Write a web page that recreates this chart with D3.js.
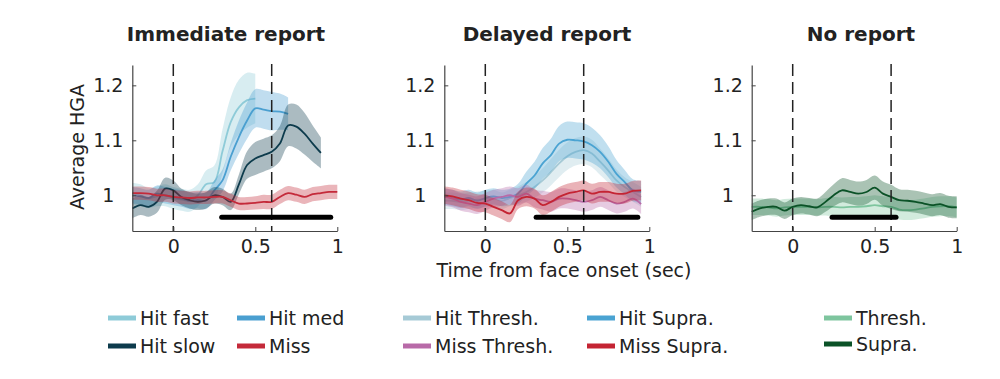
<!DOCTYPE html>
<html>
<head>
<meta charset="utf-8">
<script src="https://cdn.jsdelivr.net/npm/d3@7"></script>
<style>
  body { margin: 0; background: #fff; }
  svg text { font-family: "DejaVu Sans", sans-serif; fill: #222; }
</style>
</head>
<body>
<svg id="chart" width="1000" height="379"></svg>
<script>
// time axis (sec from face onset), sampled every 50 ms
const time = [-0.25, -0.2, -0.15, -0.1, -0.05, 0, 0.05, 0.1, 0.15, 0.2, 0.25, 0.3, 0.35,
              0.4, 0.45, 0.5, 0.55, 0.6, 0.65, 0.7, 0.75, 0.8, 0.85, 0.9, 0.95, 1.0];

const panelTitles = ["Immediate report", "Delayed report", "No report"];
const xTicks = [0, 0.5, 1];
const yTicks = [1, 1.1, 1.2];
const markerTimes = [0, 0.6];
const sigBars = [[0.295, 0.96], [0.31, 0.93], [0.24, 0.63]];

// Immediate report
const hitFast = [1.003, 1.0, 0.995, 0.998, 1.0, 0.995, 0.992, 0.99, 1.0, 1.02, 1.024, 1.08, 1.133, 1.16, 1.173, 1.176];
const hitFastSE = [0.02, 0.02, 0.018, 0.018, 0.02, 0.02, 0.02, 0.02, 0.02, 0.025, 0.03, 0.04, 0.045, 0.05, 0.05, 0.045];
const hitMed = [1.0, 0.998, 0.995, 1.003, 1.0, 0.997, 0.994, 0.99, 0.991, 0.99, 1.009, 1.027, 1.07, 1.106, 1.136, 1.158, 1.156, 1.153, 1.152, 1.148];
const hitMedSE = [0.015, 0.015, 0.015, 0.015, 0.015, 0.015, 0.015, 0.015, 0.015, 0.015, 0.018, 0.02, 0.025, 0.03, 0.033, 0.035, 0.035, 0.035, 0.033, 0.03];
const hitSlow = [0.976, 0.982, 0.979, 0.988, 1.012, 1.009, 0.997, 0.991, 0.988, 0.991, 1.0, 0.997, 0.988, 1.02, 1.055, 1.067, 1.073, 1.079, 1.094, 1.127, 1.125, 1.112, 1.094, 1.077];
const hitSlowSE = [0.018, 0.018, 0.018, 0.02, 0.02, 0.018, 0.015, 0.015, 0.015, 0.015, 0.015, 0.015, 0.015, 0.018, 0.025, 0.03, 0.03, 0.03, 0.032, 0.038, 0.04, 0.038, 0.033, 0.028];
const miss = [1.004, 1.004, 1.003, 1.0, 1.0, 0.997, 0.996, 0.995, 0.996, 0.996, 0.997, 0.997, 0.991, 0.985, 0.985, 0.986, 0.988, 0.988, 0.997, 1.004, 1.001, 0.997, 1.002, 1.004, 1.006, 1.006];
const missSE = [0.012, 0.012, 0.012, 0.012, 0.012, 0.012, 0.012, 0.012, 0.012, 0.012, 0.012, 0.012, 0.012, 0.012, 0.012, 0.012, 0.013, 0.013, 0.013, 0.013, 0.013, 0.013, 0.013, 0.013, 0.013, 0.013];

// Delayed report
const hitSupra = [0.998, 0.995, 0.992, 0.995, 0.99, 0.995, 0.998, 0.995, 0.997, 1.003, 1.021, 1.036, 1.058, 1.073, 1.094, 1.101, 1.1, 1.098, 1.091, 1.079, 1.061, 1.039, 1.024, 1.009, 1.006];
const hitSupraSE = [0.015, 0.015, 0.015, 0.015, 0.015, 0.015, 0.015, 0.015, 0.015, 0.018, 0.022, 0.025, 0.028, 0.03, 0.032, 0.033, 0.033, 0.033, 0.032, 0.03, 0.028, 0.025, 0.022, 0.02, 0.02];
const hitThresh = [0.99, 0.99, 0.988, 0.99, 0.992, 0.993, 0.995, 0.99, 0.995, 1.0, 1.006, 1.015, 1.027, 1.042, 1.058, 1.071, 1.079, 1.082, 1.076, 1.061, 1.045, 1.027, 1.015, 1.006, 0.997];
const hitThreshSE = [0.015, 0.015, 0.015, 0.015, 0.015, 0.015, 0.015, 0.015, 0.015, 0.016, 0.018, 0.02, 0.022, 0.024, 0.025, 0.025, 0.025, 0.025, 0.025, 0.024, 0.022, 0.02, 0.018, 0.018, 0.018];
const missThresh = [0.997, 0.994, 0.988, 0.985, 0.982, 0.988, 0.994, 0.997, 1.0, 0.997, 1.003, 0.994, 0.991, 0.988, 0.994, 0.994, 0.991, 0.988, 0.991, 0.997, 0.991, 0.985, 0.988, 0.994, 0.984];
const missThreshSE = [0.016, 0.016, 0.016, 0.016, 0.016, 0.016, 0.016, 0.016, 0.016, 0.016, 0.016, 0.016, 0.017, 0.018, 0.018, 0.018, 0.018, 0.018, 0.018, 0.018, 0.018, 0.018, 0.018, 0.018, 0.018];
const missSupra = [1.0, 0.998, 0.994, 0.991, 0.986, 0.985, 0.979, 0.973, 0.967, 0.991, 0.997, 0.994, 0.982, 0.988, 0.997, 1.003, 1.006, 1.009, 1.003, 1.006, 1.006, 1.003, 1.003, 1.008, 1.009];
const missSupraSE = [0.016, 0.016, 0.016, 0.016, 0.016, 0.016, 0.016, 0.016, 0.016, 0.016, 0.017, 0.018, 0.018, 0.018, 0.018, 0.018, 0.018, 0.018, 0.018, 0.018, 0.018, 0.018, 0.018, 0.018, 0.018];

// No report
const threshNR = [0.979, 0.979, 0.978, 0.976, 0.978, 0.979, 0.979, 0.979, 0.978, 0.979, 0.979, 0.978, 0.979, 0.979, 0.98, 0.982, 0.98, 0.979, 0.974, 0.973, 0.974, 0.976, 0.979, 0.98, 0.98, 0.978];
const threshNRSE = [0.015, 0.015, 0.015, 0.015, 0.015, 0.015, 0.015, 0.015, 0.015, 0.016, 0.018, 0.018, 0.018, 0.018, 0.018, 0.018, 0.018, 0.018, 0.018, 0.018, 0.018, 0.018, 0.018, 0.018, 0.018, 0.018];
const supraNR = [0.97, 0.976, 0.979, 0.979, 0.972, 0.979, 0.982, 0.98, 0.978, 0.988, 1.0, 1.009, 1.006, 1.003, 1.006, 1.014, 1.003, 0.997, 0.991, 0.99, 0.988, 0.985, 0.982, 0.984, 0.979, 0.978];
const supraNRSE = [0.015, 0.015, 0.015, 0.015, 0.015, 0.015, 0.015, 0.015, 0.016, 0.018, 0.02, 0.022, 0.022, 0.022, 0.022, 0.022, 0.022, 0.022, 0.02, 0.02, 0.02, 0.02, 0.02, 0.02, 0.02, 0.02];

const colors = {
    hitFast: "#8ecbd8", hitMed: "#4a9fd0", hitSlow: "#0d3b4c", miss: "#c42a3a",
    hitThresh: "#a6cad6", hitSupra: "#4aa3d2", missThresh: "#b86aa8", missSupra: "#c42433",
    thresh: "#7ec59e", supra: "#0b5227"
};

const panels = [
    { left: 132.3, series: [
        { v: hitFast, se: hitFastSE, c: colors.hitFast },
        { v: hitMed, se: hitMedSE, c: colors.hitMed },
        { v: hitSlow, se: hitSlowSE, c: colors.hitSlow },
        { v: miss, se: missSE, c: colors.miss }
    ]},
    { left: 444.3, series: [
        { v: hitThresh, se: hitThreshSE, c: colors.hitThresh },
        { v: hitSupra, se: hitSupraSE, c: colors.hitSupra },
        { v: missThresh, se: missThreshSE, c: colors.missThresh },
        { v: missSupra, se: missSupraSE, c: colors.missSupra }
    ]},
    { left: 751.7, series: [
        { v: threshNR, se: threshNRSE, c: colors.thresh },
        { v: supraNR, se: supraNRSE, c: colors.supra }
    ]}
];
const titleX = [226, 547, 861];

const legendGroups = [
    { x: [108, 237], rows: [318, 346], items: [["Hit fast", colors.hitFast], ["Hit med", colors.hitMed], ["Hit slow", colors.hitSlow], ["Miss", colors.miss]] },
    { x: [403, 587], rows: [318, 346], items: [["Hit Thresh.", colors.hitThresh], ["Hit Supra.", colors.hitSupra], ["Miss Thresh.", colors.missThresh], ["Miss Supra.", colors.missSupra]] },
    { x: [824], rows: [318, 344], items: [["Thresh.", colors.thresh], ["Supra.", colors.supra]] }
];

const svg = d3.select("#chart");
const plotW = 205, plotTop = 65, plotBottom = 231;
const y = d3.scaleLinear().domain([0.935, 1.237]).range([plotBottom, plotTop]);

panels.forEach((p, pi) => {
    const x = d3.scaleLinear().domain([-0.25, 1]).range([p.left, p.left + plotW]);
    const g = svg.append("g");

    p.series.forEach(s => {
        const pts = s.v.map((v, i) => ({ t: time[i], v: v, se: s.se[i] }));
        g.append("path")
            .attr("d", d3.area().curve(d3.curveCatmullRom)
                .x(d => x(d.t)).y0(d => y(d.v - d.se)).y1(d => y(d.v + d.se))(pts))
            .attr("fill", s.c).attr("fill-opacity", 0.35);
        g.append("path")
            .attr("d", d3.line().curve(d3.curveCatmullRom).x(d => x(d.t)).y(d => y(d.v))(pts))
            .attr("fill", "none").attr("stroke", s.c).attr("stroke-width", 1.8);
    });

    // event markers
    markerTimes.forEach(t => {
        g.append("line")
            .attr("x1", x(t)).attr("x2", x(t)).attr("y1", plotTop - 1).attr("y2", plotBottom)
            .attr("stroke", "#222").attr("stroke-width", 1.5).attr("stroke-dasharray", "12,6");
    });

    // significance bar
    g.append("line")
        .attr("x1", x(sigBars[pi][0])).attr("x2", x(sigBars[pi][1]))
        .attr("y1", y(0.96)).attr("y2", y(0.96))
        .attr("stroke", "#000").attr("stroke-width", 5).attr("stroke-linecap", "round");

    // axes
    const xa = g.append("g").attr("transform", `translate(0,${plotBottom})`)
        .call(d3.axisBottom(x).tickValues(xTicks).tickFormat(d3.format("")).tickSizeInner(-4).tickSizeOuter(0));
    const ya = g.append("g").attr("transform", `translate(${p.left},0)`)
        .call(d3.axisLeft(y).tickValues(yTicks).tickFormat(d3.format("")).tickSizeInner(-4).tickSizeOuter(0));
    [xa, ya].forEach(a => {
        a.select(".domain").attr("stroke", "#444").attr("stroke-width", 1.2);
        a.selectAll(".tick line").attr("stroke", "#444");
        a.selectAll(".tick text").attr("font-size", 19).attr("font-family", "DejaVu Sans").attr("fill", "#222");
    });
    xa.selectAll(".tick text").attr("y", 9);
    ya.selectAll(".tick text").attr("text-anchor", "middle").attr("x", -24).attr("dy", "0.35em");

    svg.append("text").attr("x", titleX[pi]).attr("y", 41).attr("text-anchor", "middle")
        .attr("font-size", 20).attr("font-weight", "bold").text(panelTitles[pi]);
});

svg.append("text").attr("transform", "translate(84,147) rotate(-90)")
    .attr("text-anchor", "middle").attr("font-size", 19).text("Average HGA");
svg.append("text").attr("x", 564).attr("y", 277).attr("text-anchor", "middle")
    .attr("font-size", 19).text("Time from face onset (sec)");

// legends
legendGroups.forEach(lg => {
    lg.items.forEach((it, i) => {
        const col = i % lg.x.length, row = Math.floor(i / lg.x.length);
        const lx = lg.x[col], ly = lg.rows[row];
        svg.append("line").attr("x1", lx).attr("x2", lx + 28).attr("y1", ly).attr("y2", ly)
            .attr("stroke", it[1]).attr("stroke-width", 5);
        svg.append("text").attr("x", lx + 32).attr("y", ly).attr("dy", "0.36em")
            .attr("font-size", 19).text(it[0]);
    });
});
</script>
</body>
</html>
